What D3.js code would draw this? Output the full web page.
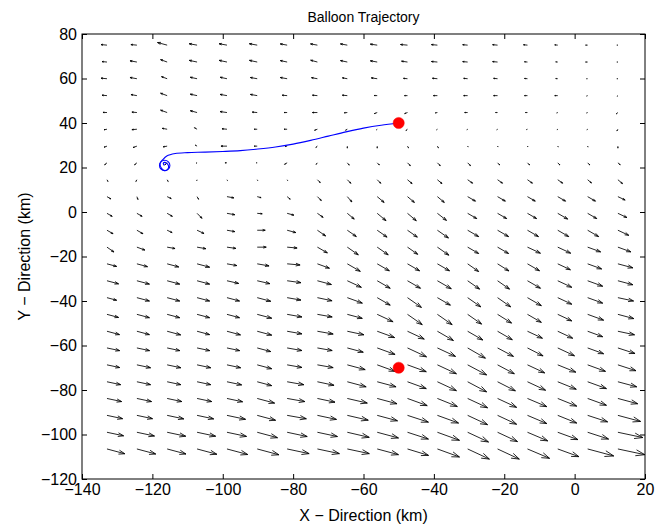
<!DOCTYPE html>
<html><head><meta charset="utf-8">
<script src="https://cdn.jsdelivr.net/npm/d3@7"></script>
<style>
body{margin:0;background:#fff}
svg{display:block}
text{font-family:"Liberation Sans",Arial,Helvetica,sans-serif;fill:#000}
</style>
</head><body>
<svg id="chart" width="657" height="527"></svg>
<script>
// ---------- data ----------
const xTicks = [-140,-120,-100,-80,-60,-40,-20,0,20];
const yTicks = [-120,-100,-80,-60,-40,-20,0,20,40,60,80];
const titleText = "Balloon Trajectory";
const xLabelText = "X \u2212 Direction (km)";
const yLabelText = "Y \u2212 Direction (km)";

// wind grid (km)
const gridX = [-132.9,-124.4,-115.8,-107.3,-98.8,-90.2,-81.7,-73.1,-64.6,-56.1,-47.5,-39.0,-30.4,-21.9,-13.4,-4.8,3.7,12.3];
const gridY = [75,67.4,59.9,52.3,44.7,37.2,29.6,22.1,14.5,6.9,-0.6,-8.2,-15.8,-23.3,-30.9,-38.5,-46.0,-53.6,-61.1,-68.7,-76.3,-83.8,-91.4,-99.0,-106.5];

// wind speed per grid row (top row first)
const windSpeed = [
 [6,6,10,8,8,8,7,7,7,7,7,6,5,5,4,3,2,1],
 [5,7,7,8,8,8,7,7,7,7,6,6,5,5,3,2,2,1],
 [6,7,6,7,7,7,7,6,5,6,4,5,4,4,3,2,1,1],
 [5,6,7,7,7,7,5,5,5,3,3,4,4,4,3,3,1,1],
 [4,5,7,7,7,5,3,5,3,3,3,2,3,2,2,1,1,2],
 [3,5,5,3,5,3,3,3,2,1,2,1,1,1,1,1,1,2],
 [3,4,4,2,6,3,2,2,2,2,2,2,1,1,1,1,1,2],
 [3,3,3,1,2,1,3,2,3,3,4,4,4,3,3,3,3,3],
 [2,2,2,1,1,1,1,4,5,5,6,6,6,6,6,6,5,6],
 [4.5,3,4.5,3,7,4,4,5.5,7,9,9,9,9,9,9,9,9,8],
 [6,6,6,7,8,5,7,7,9,11.5,11.5,11.5,10.5,10.5,10.5,11.5,10.5,10],
 [7,7,5.5,7.7,8,8,9,10,11,12,12,13.5,12.7,12.7,12.7,12.7,12.7,12],
 [8.5,8.5,8,9,9,9,10,11.5,13.4,13.4,12.5,14,12.7,12.7,14.3,14.3,13.8,13.8],
 [10,11,12,13,10,12,13,12.8,15,14,14,14,13.4,13.4,13.9,14,14.9,15.5],
 [12,13,13,13,12,13,14,14.5,15.5,15,15,16,14.6,14.6,15,15.5,16,15.5],
 [10,13,13,13,13,14,14,15,16,15,17,15,16,16,16,15.5,16,16],
 [12,13,13,13,13,15,15,15,15.5,17.5,18,18,17,16.5,16,15.5,17,16.5],
 [13,13,14,13,14,15,15,16,17,18.5,18.5,18.5,17.5,17,16.5,16.5,16,17],
 [13,13,13,13,13,14,15,15,16.5,19,21,20,20.5,18,17.5,18.5,17,18],
 [13,14,14,14,14,15,15,16,18.5,19,20,21,21.5,19,19,19.5,19,19],
 [14,14,14,14,15,15,17,17,19.5,19.5,20,21,21.5,20,20,20,20,19.5],
 [15,15,15,15,16,18,18,18,20.5,20.5,21,21.5,22,21,21,20.5,20,20.5],
 [16,16,17,17,19,19,19.5,19.5,21.5,21,22,22.5,22,21,21,20.5,21,23.5],
 [17,18,19,19,20,21,20.5,20.5,22.5,22,22,23.5,23,22,22,21.5,22,25.5],
 [18.5,19.5,19.5,20.5,21.5,22.5,22.5,22.5,22.5,22,22,23.5,24,24,24,22.5,27,27.5]
];
// wind direction (degrees, counter-clockwise from east)
const windDir = [
 [175,175,165,170,170,170,170,170,170,172,175,175,175,175,175,175,180,180],
 [175,170,160,168,168,168,168,165,168,170,172,175,175,175,175,175,180,180],
 [175,170,160,168,168,170,170,170,170,172,175,175,175,175,175,175,180,180],
 [175,170,160,168,170,170,175,175,175,178,180,180,180,180,180,180,200,220],
 [178,175,160,165,172,175,180,180,185,200,200,190,180,180,180,200,200,220],
 [190,185,170,150,175,180,180,200,210,220,220,220,220,220,200,220,220,240],
 [200,200,190,150,180,180,190,220,270,270,300,300,300,300,300,300,290,270],
 [220,220,220,200,180,180,210,230,310,315,315,315,315,315,315,315,315,320],
 [300,240,300,250,300,300,300,315,315,315,320,320,325,325,325,325,320,320],
 [330,290,335,300,350,345,320,315,311,320,320,320,330,330,330,330,330,335],
 [330,330,330,315,350,355,345,325,320,320,320,322,330,330,330,330,330,335],
 [330,330,335,335,350,0,345,325,325,325,325,325,330,330,330,330,330,335],
 [325,340,350,350,352,0,355,330,325,325,325,325,330,330,335,335,340,340],
 [345,345,345,345,350,350,355,340,330,330,330,330,325,328,330,335,340,345],
 [345,345,345,345,347,347,352,345,335,330,330,330,325,325,330,335,340,345],
 [345,345,345,345,345,345,350,348,340,330,325,330,325,325,330,335,340,348],
 [345,345,345,345,345,345,350,350,345,335,325,325,325,328,330,335,340,345],
 [345,345,345,345,345,345,350,350,348,340,335,330,330,330,335,335,340,348],
 [348,348,348,348,348,345,350,350,345,340,335,335,330,332,333,335,340,342],
 [348,348,348,348,348,345,350,350,345,340,340,335,332,332,335,338,340,342],
 [348,348,348,348,348,345,350,348,345,345,340,335,332,333,335,338,340,345],
 [348,348,348,348,348,345,350,348,347,345,340,338,335,335,337,338,340,345],
 [348,348,348,348,348,345,350,348,347,345,342,340,335,335,337,338,342,345],
 [348,348,348,348,348,345,348,348,347,345,342,340,335,335,337,340,342,348],
 [345,345,345,345,345,345,348,348,348,345,343,340,335,335,337,340,345,348]
];

// balloon trajectory (km)
const trackX = [-50.1,-55,-60,-65,-70,-75,-80,-85,-90,-95,-100,-105,-110,-113.5,-115.9,-117.1,-117.8,-117.4,-116.4,-115.5,-115.5,-116.4,-116.9,-116.6];
const trackY = [39.9,39.0,37.7,36.0,34.1,32.2,30.5,29.2,28.3,27.6,27.2,26.9,26.7,26.3,25.2,23.4,21.9,19.6,18.6,19.6,21.1,22.3,21.9,20.9];
// launch points (red) and final position (blue circle)
const launchX = [-50,-50];
const launchY = [40,-70];
const finalX = [-116.5];
const finalY = [20.9];

// ---------- drawing ----------
const W = 657, H = 527;
const margin = {left:82, right:12, top:34, bottom:48};
const svg = d3.select("#chart");
const x = d3.scaleLinear().domain([-140,20]).range([margin.left, W - margin.right]);
const y = d3.scaleLinear().domain([-120,80]).range([H - margin.bottom, margin.top]);
const fmt = d => d < 0 ? "\u2212" + Math.abs(d) : String(d);
const FS = 16;

svg.append("rect").attr("width",W).attr("height",H).attr("fill","#fff");

svg.append("defs").append("clipPath").attr("id","clip")
  .append("rect").attr("x",x(-140)).attr("y",y(80))
  .attr("width",x(20)-x(-140)).attr("height",y(-120)-y(80));

// quiver
const quiverG = svg.append("g").attr("clip-path","url(#clip)");
const arrows = [];
gridY.forEach((gy,i) => gridX.forEach((gx,j) => {
  arrows.push({gx, gy, s: windSpeed[i][j], d: windDir[i][j]});
}));
const k = 1; // pixels per speed unit
const alpha = 0.33, beta = 0.33;
quiverG.selectAll("path.q").data(arrows).join("path")
  .attr("class","q")
  .attr("d", a => {
    const x0 = x(a.gx), y0 = y(a.gy);
    const r = a.d * Math.PI / 180;
    const du = a.s * k * Math.cos(r), dv = -a.s * k * Math.sin(r);
    const x1 = x0 + du, y1 = y0 + dv;
    const p1x = x1 - alpha*(du + beta*dv), p1y = y1 - alpha*(dv - beta*du);
    const p2x = x1 - alpha*(du - beta*dv), p2y = y1 - alpha*(dv + beta*du);
    return `M${x0},${y0}L${x1},${y1}M${p1x},${p1y}L${x1},${y1}L${p2x},${p2y}`;
  })
  .attr("fill","none").attr("stroke","#000").attr("stroke-width",0.85);

// trajectory
const track = trackX.map((v,i) => [v, trackY[i]]);
quiverG.append("path").datum(track)
  .attr("d", d3.line().x(d => x(d[0])).y(d => y(d[1])).curve(d3.curveCatmullRom.alpha(0.5)))
  .attr("fill","none").attr("stroke","#0000ff").attr("stroke-width",1.1);

quiverG.selectAll("circle.fin").data(finalX.map((v,i)=>[v,finalY[i]])).join("circle")
  .attr("class","fin").attr("cx",d=>x(d[0])).attr("cy",d=>y(d[1])).attr("r",5.2)
  .attr("fill","none").attr("stroke","#0000ff").attr("stroke-width",1.1);

quiverG.selectAll("circle.launch").data(launchX.map((v,i)=>[v,launchY[i]])).join("circle")
  .attr("class","launch").attr("cx",d=>x(d[0])).attr("cy",d=>y(d[1])).attr("r",5.6)
  .attr("fill","#ff0000").attr("stroke","#ff0000").attr("stroke-width",0.5);

// axes
const axB = svg.append("g").attr("transform",`translate(0,${y(-120)})`)
  .call(d3.axisBottom(x).tickValues(xTicks).tickFormat(fmt).tickSizeInner(-5).tickSizeOuter(0).tickPadding(5));
const axT = svg.append("g").attr("transform",`translate(0,${y(80)})`)
  .call(d3.axisTop(x).tickValues(xTicks).tickFormat("").tickSizeInner(-5).tickSizeOuter(0));
const axL = svg.append("g").attr("transform",`translate(${x(-140)},0)`)
  .call(d3.axisLeft(y).tickValues(yTicks).tickFormat(fmt).tickSizeInner(-5).tickSizeOuter(0).tickPadding(5));
const axR = svg.append("g").attr("transform",`translate(${x(20)},0)`)
  .call(d3.axisRight(y).tickValues(yTicks).tickFormat("").tickSizeInner(-5).tickSizeOuter(0));
[axB,axT,axL,axR].forEach(g => {
  g.select(".domain").remove();
  g.selectAll("line").attr("stroke","#000").attr("stroke-width",1);
  g.selectAll("text").attr("font-size",FS).attr("font-family",'"Liberation Sans",Arial,sans-serif').attr("fill","#000");
});

svg.append("rect").attr("x",x(-140)).attr("y",y(80))
  .attr("width",x(20)-x(-140)).attr("height",y(-120)-y(80))
  .attr("fill","none").attr("stroke","#000").attr("stroke-width",1);

// labels
svg.append("text").attr("x",(x(-140)+x(20))/2).attr("y",22)
  .attr("text-anchor","middle").attr("font-size",14).text(titleText);
svg.append("text").attr("x",(x(-140)+x(20))/2).attr("y",521)
  .attr("text-anchor","middle").attr("font-size",FS).text(xLabelText);
svg.append("text").attr("transform",`translate(30,${(y(80)+y(-120))/2}) rotate(-90)`)
  .attr("text-anchor","middle").attr("font-size",FS).text(yLabelText);
</script>
</body></html>
